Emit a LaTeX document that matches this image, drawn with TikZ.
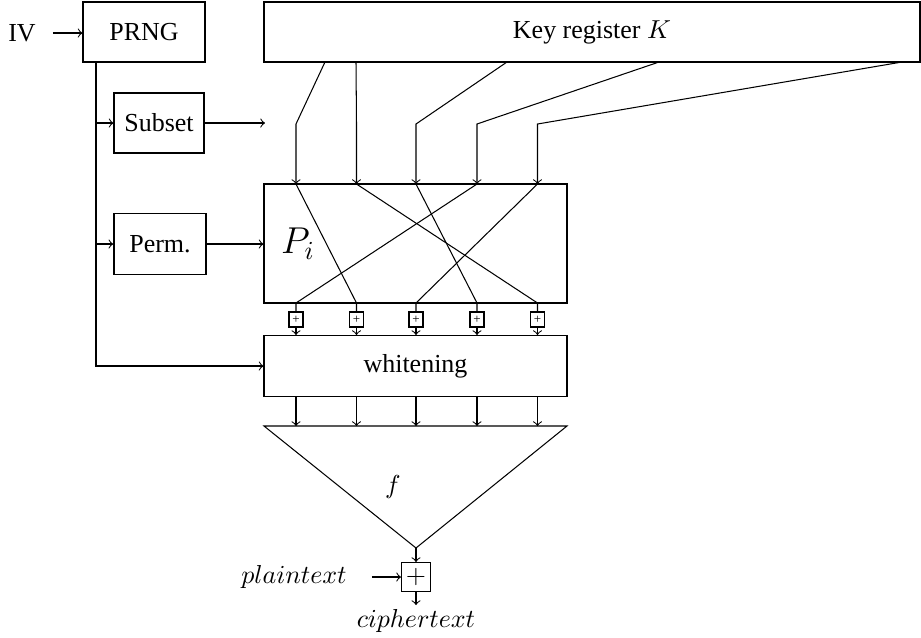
\documentclass[tikz,border=0pt]{standalone}
\usepackage{fontspec}
\setmainfont{Liberation Serif}
\begin{document}
\begin{tikzpicture}[x=0.385pt, y=-0.385pt, line width=0.4pt,
  box/.style={draw, inner sep=0pt},
  wh/.style 2 args={minimum width=#1*0.385pt, minimum height=#2*0.385pt},
  xorbox/.style={draw, inner sep=0pt, minimum width=14*0.385pt, minimum height=15*0.385pt, font=\fontsize{5}{5}\selectfont},
  bigxor/.style={draw, inner sep=0pt, minimum size=29*0.385pt, font=\normalsize},
  plain/.style={inner sep=0pt}]
\useasboundingbox (0,0) rectangle (921,637);

% blocks
\node[plain] (iv) at (22,33) {IV};
\node[box, wh={122}{60}] (prng) at (144,32) {PRNG};
\node[box, wh={656}{60}] (key) at (592,32) {Key register $K$};
\node[box, wh={90}{60}] (subset) at (159,123) {Subset};
\node[box, wh={92}{61}, line width=0.6pt] (perm) at (160,244) {Perm.};
\node[box, wh={303}{119}] (pbox) at (415.5,243.5) {};
\node[plain, font=\Large] (pi) at (298,244) {$P_i$};
\node[box, wh={303}{61}] (white) at (415.5,366) {whitening};

% inputs from IV and PRNG
\coordinate (ivr) at (53,33);
\draw[->] (ivr) -- (prng.west |- ivr);
\coordinate (v0) at (96,62);
\coordinate (vs) at (96,123);
\coordinate (vp) at (96,244);
\draw[->] (v0) |- (white.west);
\draw[->] (vs) -- (subset.west);
\draw[->] (vp) -- (perm.west);
\coordinate (sout) at (265,123);
\draw[->] (subset.east) -- (sout);
\draw[->] (perm.east) -- (perm.east -| pbox.west);

% key register taps, bends and permutation inputs/outputs
\foreach \i/\kx/\cx in {1/325/296, 2/356/356.5, 3/507/416, 4/659/477, 5/902/537.5} {
  \coordinate (k\i) at (\kx,62);
  \coordinate (m\i) at (\cx,124);
  \coordinate (t\i) at (\cx,184);
  \coordinate (b\i) at (\cx,303);
  \node[xorbox] (x\i) at (\cx,319.5) {+};
  \coordinate (w\i) at (\cx,396);
  \coordinate (f\i) at (\cx,426);
  \draw[->] (k\i) -- (m\i) -- (t\i);
  \draw[->] (x\i) -- (x\i |- white.north);
  \draw[->] (w\i) -- (f\i);
}

% permutation wiring
\foreach \a/\b in {1/2, 2/5, 3/4, 4/1, 5/3} {
  \draw (t\a) -- (b\b) -- (x\b.north);
}

% combining function
\coordinate (tl) at (264,426);
\coordinate (tr) at (567,426);
\coordinate (apex) at (416,548);
\draw (tl) -- (tr) -- (apex) -- cycle;
\node[plain] (f) at (393,487) {$f$};

% output stage
\node[bigxor] (ox) at (416,577) {$+$};
\draw[->] (apex) -- (ox.north);
\node[plain] (pt) at (294,577) {$plaintext$};
\coordinate (ptr) at (372,577);
\draw[->] (ptr) -- (ox.west);
\node[plain] (ct) at (416,621) {$ciphertext$};
\coordinate (ctt) at (416,605);
\draw[->] (ox.south) -- (ctt);
\end{tikzpicture}
\end{document}
